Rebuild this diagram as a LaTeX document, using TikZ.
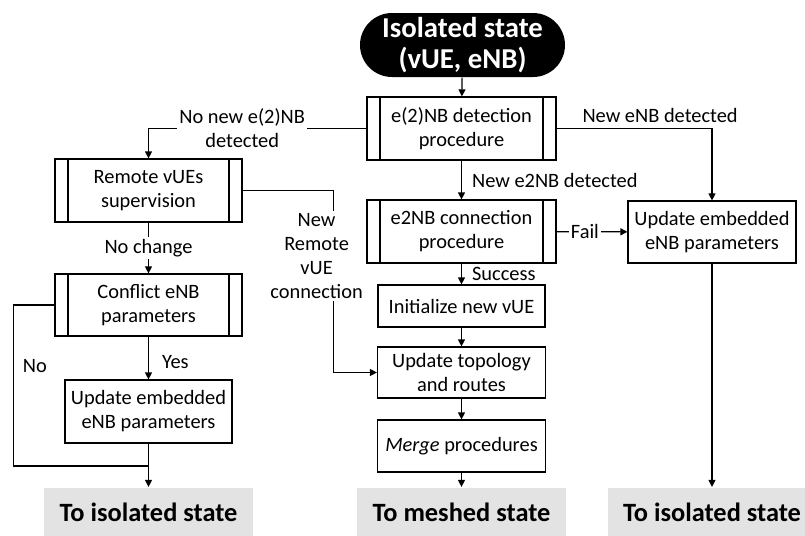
\documentclass[tikz,border=0pt]{standalone}
\usepackage{fontspec}
\setmainfont{Carlito}
\usetikzlibrary{arrows.meta}
\definecolor{goalgray}{RGB}{227,227,227}

\begin{document}
\begin{tikzpicture}[x=0.5pt, y=-0.5pt, line width=0.6pt, >={Triangle[length=3.5pt,width=3.5pt]}]
    \tikzstyle{box} = [draw, align=center, inner sep=1pt, font=\fontsize{10.2}{12}\selectfont]
    \tikzstyle{subproc} = [box, path picture={
        \draw ([xshift=6.5pt]path picture bounding box.north west) -- ([xshift=6.5pt]path picture bounding box.south west)
              ([xshift=-6.5pt]path picture bounding box.north east) -- ([xshift=-6.5pt]path picture bounding box.south east);}]
    \tikzstyle{goal} = [fill=goalgray, minimum width=104.5pt, minimum height=24.5pt, font=\fontsize{13.2}{14}\selectfont\bfseries]
    \tikzstyle{lab} = [inner sep=1pt, align=center, font=\fontsize{10.2}{12}\selectfont]
    \clip (0,0) rectangle (805,536);

    \node[fill=black, text=white, rounded corners=16pt, minimum width=102.5pt, minimum height=32pt, align=center,
          inner sep=1pt, font=\fontsize{14.4}{15.2}\selectfont\bfseries] (init) at (462.5,45) {Isolated state\\(vUE, eNB)};
    \node[subproc, minimum width=94.5pt, minimum height=31.5pt] (det) at (461.5,128.5) {e(2)NB detection\\procedure};
    \node[subproc, minimum width=93.5pt, minimum height=31.5pt] (rv) at (148.5,190.5) {Remote vUEs\\supervision};
    \node[subproc, minimum width=93.5pt, minimum height=31pt] (cf) at (148.5,305) {Conflict eNB\\parameters};
    \node[box, minimum width=83.5pt, minimum height=31.5pt] (upl) at (148.5,411.5) {Update embedded\\eNB parameters};
    \node[subproc, minimum width=94.5pt, minimum height=31.5pt] (con) at (461.5,231.5) {e2NB connection\\procedure};
    \node[box, minimum width=84pt, minimum height=31pt] (upr) at (712,232) {Update embedded\\eNB parameters};
    \node[box, minimum width=83.5pt, minimum height=21pt] (ini) at (461.5,306) {Initialize new vUE};
    \node[box, minimum width=84pt, minimum height=25.5pt] (topo) at (461.5,372.5) {Update topology\\and routes};
    \node[box, minimum width=84pt, minimum height=26pt] (mrg) at (461.5,446) {\textit{Merge} procedures};
    \node[goal] (gl) at (148.5,512) {To isolated state};
    \node[goal] (gm) at (461.5,512) {To meshed state};
    \node[goal] (gr) at (712,512) {To isolated state};
    \coordinate (j) at (148.5,466);

    \draw[->] (init) -- (det);
    \draw[->] (det.west) -- (rv.north |- det.west)
        node[lab, fill=white, pos=0.57] (lnonew) {No new e(2)NB\\detected} -- (rv.north);
    \draw[->] (det.east) -| (upr.north) node[lab, pos=0.333, above=1.5pt] (lneweNB) {New eNB detected};
    \draw[->] (det) -- (con) node[lab, midway, right=4pt] (lnewe2NB) {New e2NB detected};
    \draw[->] (con) -- (upr) node[lab, fill=white, pos=0.4] (lfail) {Fail};
    \draw[->] (con) -- (ini) node[lab, midway, right=4pt] (lsucc) {Success};
    \draw[->] (ini) -- (topo);
    \draw[->] (topo) -- (mrg);
    \draw[->] (mrg) -- (gm);
    \draw[->] (upr.south) -- (upr.south |- gr.north);
    \draw[->] (rv.east) -- ++(91,0) |- (topo.west)
        node[lab, fill=white, pos=0.18, xshift=-8.5pt] (lremote) {New\\Remote\\vUE\\connection};
    \draw[->] (rv) -- (cf) node[lab, fill=white, midway] (lnochg) {No change};
    \draw[->] (cf) -- (upl) node[lab, pos=0.6, right=5.5pt] (lyes) {Yes};
    \draw (cf.west) -- ++(-41,0) |- (j) node[lab, pos=0.19, right=3.5pt] (lno) {No};
    \draw[->] (upl) -- (gl);
\end{tikzpicture}
\end{document}
